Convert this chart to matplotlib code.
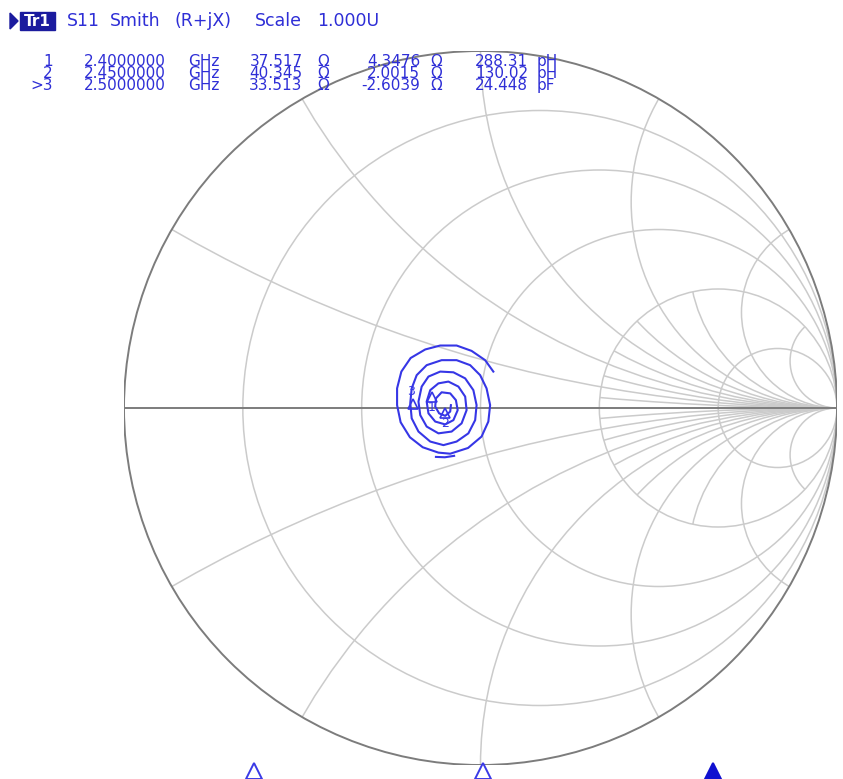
import matplotlib
matplotlib.use('Agg')
import matplotlib.pyplot as plt
from matplotlib.patches import Circle, Polygon, Rectangle

# smith grid values
r_circles = [0.2, 0.5, 1.0, 2.0, 5.0]
x_main = [0.268, 0.577, 1.0, 1.732, 3.732]
x_minor = [0.132, 0.414, 0.767, 1.303, 2.414, 7.6]

# S11 trace, reflection coefficient
trace_re = [0.036, 0.013, -0.025, -0.067, -0.113, -0.155, -0.196, -0.222, -0.234, -0.234,
            -0.224, -0.198, -0.162, -0.118, -0.085, -0.035, 0.003, 0.022, 0.027, 0.017,
            -0.001, -0.029, -0.067, -0.109, -0.151, -0.179, -0.193, -0.197, -0.193, -0.174,
            -0.141, -0.104, -0.067, -0.034, -0.015, -0.011, -0.020, -0.043, -0.076, -0.113,
            -0.146, -0.165, -0.174, -0.169, -0.151, -0.118, -0.081, -0.053, -0.039, -0.043,
            -0.062, -0.090, -0.118, -0.141, -0.151, -0.146, -0.127, -0.099, -0.076, -0.064,
            -0.069, -0.085, -0.109, -0.125, -0.127, -0.116, -0.099, -0.085, -0.083]
trace_im = [0.102, 0.134, 0.160, 0.175, 0.175, 0.164, 0.140, 0.102, 0.055, 0.008,
            -0.040, -0.082, -0.110, -0.125, -0.128, -0.112, -0.080, -0.038, 0.008, 0.055,
            0.092, 0.120, 0.134, 0.134, 0.120, 0.092, 0.055, 0.014, -0.029, -0.066,
            -0.094, -0.104, -0.094, -0.071, -0.034, 0.008, 0.050, 0.083, 0.100, 0.102,
            0.088, 0.060, 0.018, -0.020, -0.052, -0.071, -0.066, -0.043, -0.006, 0.032,
            0.060, 0.074, 0.069, 0.050, 0.018, -0.015, -0.038, -0.046, -0.034, -0.006,
            0.022, 0.041, 0.044, 0.027, 0.004, -0.015, -0.022, -0.010, 0.008]
tail_re = [-0.125, -0.100, -0.074]
tail_im = [-0.137, -0.138, -0.134]

mk_num = ['1', '2', '3']
mk_re = [-0.136, -0.099, -0.190]
mk_im = [0.031, -0.014, 0.012]
mk_freq = [2.40, 2.45, 2.50]
mk_active = [False, False, True]

row_id = ['1', '2', '>3']
row_freq = ['2.4000000', '2.4500000', '2.5000000']
row_r = ['37.517', '40.345', '33.513']
row_x = ['4.3476', '2.0015', '-2.6039']
row_eq = ['288.31', '130.02', '24.448']
row_eq_unit = ['pH', 'pH', 'pF']

header_words = ['S11', 'Smith', '(R+jX)', 'Scale', '1.000U']

blue = '#2e2ed6'
trace_col = '#3636e6'
grid_col = '#cbcbcb'
edge_col = '#7c7c7c'

fig = plt.figure(figsize=(8.43, 7.79), dpi=100)
fig.patch.set_facecolor('white')

ax = fig.add_axes([124 / 843, 14 / 779, 713 / 843, 714 / 779])
ax.set_xlim(-1, 1)
ax.set_ylim(-1, 1)
ax.axis('off')

unit = Circle((0, 0), 1, fill=False, ec=edge_col, lw=1.4, zorder=3)
ax.add_patch(unit)
ax.plot([-1, 1], [0, 0], color=edge_col, lw=1.4, zorder=3)

for r in r_circles:
    ax.add_patch(Circle((r / (1 + r), 0), 1 / (1 + r), fill=False, ec=grid_col, lw=1.1))

for x in x_main:
    for s in (1, -1):
        c = Circle((1, s / x), 1 / x, fill=False, ec=grid_col, lw=1.1)
        ax.add_patch(c)
        c.set_clip_path(unit)

inner = Circle((2 / 3, 0), 1 / 3, transform=ax.transData)
for x in x_minor:
    for s in (1, -1):
        c = Circle((1, s / x), 1 / x, fill=False, ec=grid_col, lw=1.1)
        ax.add_patch(c)
        c.set_clip_path(inner)

ax.plot(trace_re, trace_im, color=trace_col, lw=1.5, zorder=5)
ax.plot(tail_re, tail_im, color=trace_col, lw=1.5, zorder=5)

# marker symbols, number just under each triangle (3 sits above-left)
lbl_dx = [0.0, 0.0, -0.004]
lbl_dy = [-0.030, -0.030, 0.034]
for n, gr, gi, dx, dy in zip(mk_num, mk_re, mk_im, lbl_dx, lbl_dy):
    ax.plot(gr, gi, marker='^', ms=7, mfc='none', mec=trace_col, mew=1.2, zorder=6)
    ax.text(gr + dx, gi + dy, n, color=trace_col, fontsize=9, ha='center', va='center', zorder=6)

# overlay in pixel units for the text block
ov = fig.add_axes([0, 0, 1, 1])
ov.set_xlim(0, 843)
ov.set_ylim(779, 0)
ov.axis('off')
ov.patch.set_alpha(0)

ov.add_patch(Polygon([[10, 13], [10, 29], [18, 21]], closed=True, color='#1b1b9e'))
ov.add_patch(Rectangle((20, 12), 35, 18, color='#1b1b9e'))
ov.text(37.5, 21, 'Tr1', color='white', fontsize=11, ha='center', va='center', weight='bold')
for word, xl in zip(header_words, [67, 110, 175, 255, 317]):
    ov.text(xl, 21, word, color=blue, fontsize=12.5, ha='left', va='center')

cols = [
    (row_id, 53, 'right'),
    (row_freq, 125, 'center'),
    (['GHz'] * 3, 188, 'left'),
    (row_r, 276, 'center'),
    (['Ω'] * 3, 317, 'left'),
    (row_x, 420, 'right'),
    (['Ω'] * 3, 430, 'left'),
    (row_eq, 528, 'right'),
    (row_eq_unit, 537, 'left'),
]
for vals, xpos, align in cols:
    ov.text(xpos, 54, '\n'.join(vals), color=blue, fontsize=11, ha=align, va='top',
            multialignment=align, linespacing=0.76)

# stimulus marker triangles along the bottom
bx = fig.add_axes([0, 0, 1, 30 / 779])
bx.set_xlim(2.3447, 2.5284)
bx.set_ylim(0, 30)
bx.axis('off')
bx.patch.set_alpha(0)
for f, act in zip(mk_freq, mk_active):
    bx.plot(f, 8, marker='^', ms=12, mfc='#1010d0' if act else 'white',
            mec='#1010d0' if act else '#3a3ae6', mew=1.4, clip_on=False)

fig.savefig('out.png', dpi=100)
